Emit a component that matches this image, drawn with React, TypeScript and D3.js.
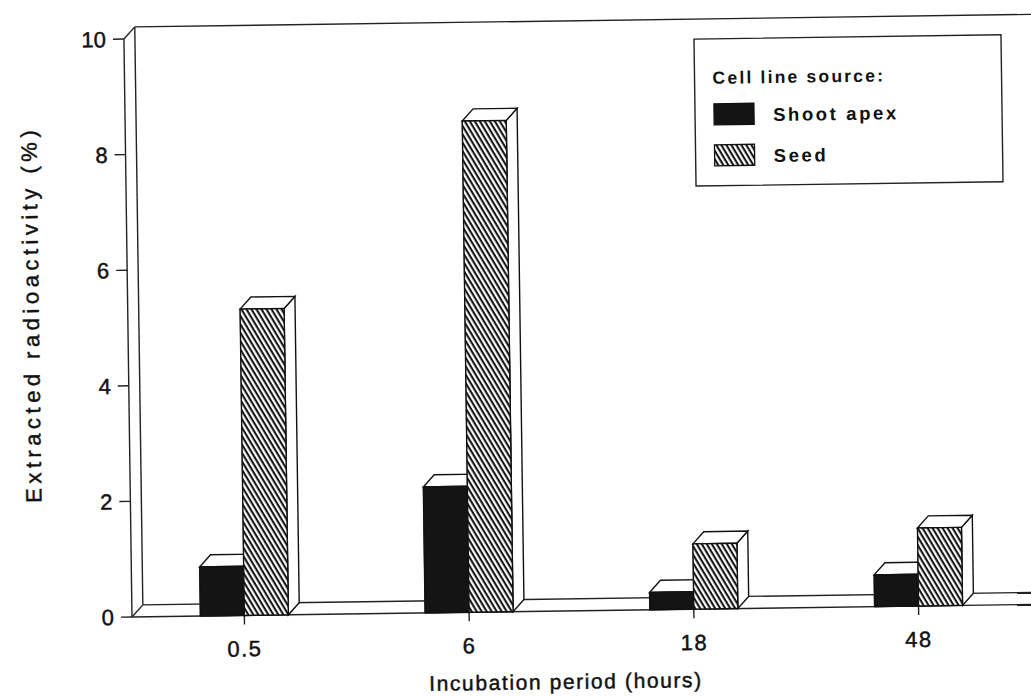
import * as d3 from 'd3'

const categories = ['0.5', '6', '18', '48']
const seriesNames = ['Shoot apex', 'Seed']
const shootApex = [0.85, 2.18, 0.3, 0.55]
const seed = [5.3, 8.5, 1.13, 1.35]
const yTicks = [0, 2, 4, 6, 8, 10]

const W = 1031
const H = 697
const FONT = '"Liberation Sans", Arial, Helvetica, sans-serif'

// depth of the fake 3D offset
const DX = 11
const DY = -12

export default function App() {
  const x = d3.scaleBand<string>().domain(categories).range([132, 1031])
  const y = d3.scaleLinear([0, 10], [617, 39])
  const sub = d3.scaleBand<string>().domain(seriesNames).range([-44, 44])
  const values = [shootApex, seed]
  const fills = ['#141414', 'url(#hatch)']
  const y0 = y(0)
  const left = x.range()[0]
  const right = 1040

  const bar3d = (bx: number, bw: number, v: number, fill: string, key: string) => {
    const yt = y(v)
    const top = [
      [bx, yt],
      [bx + DX, yt + DY],
      [bx + bw + DX, yt + DY],
      [bx + bw, yt],
    ]
    const side = [
      [bx + bw, yt],
      [bx + bw + DX, yt + DY],
      [bx + bw + DX, y0 + DY],
      [bx + bw, y0],
    ]
    const pts = (p: number[][]) => p.map((d) => d.join(',')).join(' ')
    return (
      <g key={key}>
        <polygon points={pts(side)} fill="white" stroke="#111" strokeWidth={1.4} />
        <polygon points={pts(top)} fill="white" stroke="#111" strokeWidth={1.4} />
        <rect x={bx} y={yt} width={bw} height={y0 - yt} fill="white" />
        <rect x={bx} y={yt} width={bw} height={y0 - yt} fill={fill} stroke="#111" strokeWidth={1.4} />
      </g>
    )
  }

  const txt = { fill: '#111', stroke: '#111', strokeWidth: 0.45 }

  return (
    <svg
      width={W}
      height={H}
      style={{ position: 'absolute', left: 0, top: 0, background: 'white' }}
      fontFamily={FONT}
    >
      <defs>
        <pattern
          id="hatch"
          width={4.3}
          height={10}
          patternUnits="userSpaceOnUse"
          patternTransform="rotate(-30)"
        >
          <rect width={4.3} height={10} fill="white" />
          <line x1={1.5} y1={0} x2={1.5} y2={10} stroke="#0a0a0a" strokeWidth={2} />
        </pattern>
      </defs>
      <rect width={W} height={H} fill="white" />
      <g transform={`rotate(-0.8, ${left}, ${y0})`} stroke="#222" fill="none">
        {/* back wall and floor */}
        <line x1={left + DX} y1={y(10) + DY} x2={right} y2={y(10) + DY} strokeWidth={1.4} />
        <line x1={left + DX} y1={y(10) + DY} x2={left + DX} y2={y0 + DY} strokeWidth={1.4} />
        <line x1={left} y1={y(10)} x2={left + DX} y2={y(10) + DY} strokeWidth={1.4} />
        <line x1={left} y1={y0} x2={left + DX} y2={y0 + DY} strokeWidth={1.4} />
        <line x1={left + DX} y1={y0 + DY} x2={right} y2={y0 + DY} strokeWidth={1.4} />
        <line x1={left} y1={y0} x2={right} y2={y0} strokeWidth={1.4} />
        <line x1={left} y1={y(10)} x2={left} y2={y0} strokeWidth={1.4} />

        {/* y axis ticks */}
        {yTicks.map((t) => (
          <g key={t}>
            <line x1={left - 11} x2={left} y1={y(t)} y2={y(t)} strokeWidth={1.4} />
            <text
              x={left - 18}
              y={y(t)}
              dy="0.36em"
              textAnchor="end"
              fontSize={22}
              {...txt}
            >
              {t}
            </text>
          </g>
        ))}

        {/* x axis ticks */}
        {categories.map((c) => {
          const cx = (x(c) ?? 0) + x.bandwidth() / 2
          return (
            <g key={c}>
              <line x1={cx} x2={cx} y1={y0} y2={y0 + 9} strokeWidth={1.4} />
              <text
                x={cx}
                y={y0 + 41}
                textAnchor="middle"
                fontSize={22}
                letterSpacing={1.5}
                {...txt}
              >
                {c}
              </text>
            </g>
          )
        })}

        {/* bars */}
        {categories.map((c, i) => {
          const cx = (x(c) ?? 0) + x.bandwidth() / 2
          return (
            <g key={c}>
              {seriesNames.map((s, j) =>
                bar3d(cx + (sub(s) ?? 0), sub.bandwidth(), values[j][i], fills[j], s)
              )}
            </g>
          )
        })}

        {/* legend */}
        <g transform="translate(702,47)">
          <rect x={0} y={0} width={307} height={147} fill="white" stroke="#222" strokeWidth={1.4} />
          <text x={18} y={45} fontSize={17.5} fontWeight="bold" letterSpacing={2.2} fill="#111" stroke="none">
            Cell line source:
          </text>
          {seriesNames.map((s, j) => (
            <g key={s} transform={`translate(19,${65 + j * 41})`}>
              <rect width={40} height={21} fill={fills[j]} stroke="#111" strokeWidth={1.3} />
              <text x={59} y={18} fontSize={18.5} fontWeight="bold" letterSpacing={2.6} fill="#111" stroke="none">
                {s}
              </text>
            </g>
          ))}
        </g>

        {/* axis titles */}
        <text
          x={565}
          y={y0 + 78}
          textAnchor="middle"
          fontSize={21}
          letterSpacing={1.6}
          {...txt}
        >
          Incubation period (hours)
        </text>
        <text
          transform="translate(43,313) rotate(-90)"
          textAnchor="middle"
          fontSize={22}
          letterSpacing={4.5}
          {...txt}
        >
          Extracted radioactivity (%)
        </text>
      </g>
    </svg>
  )
}
